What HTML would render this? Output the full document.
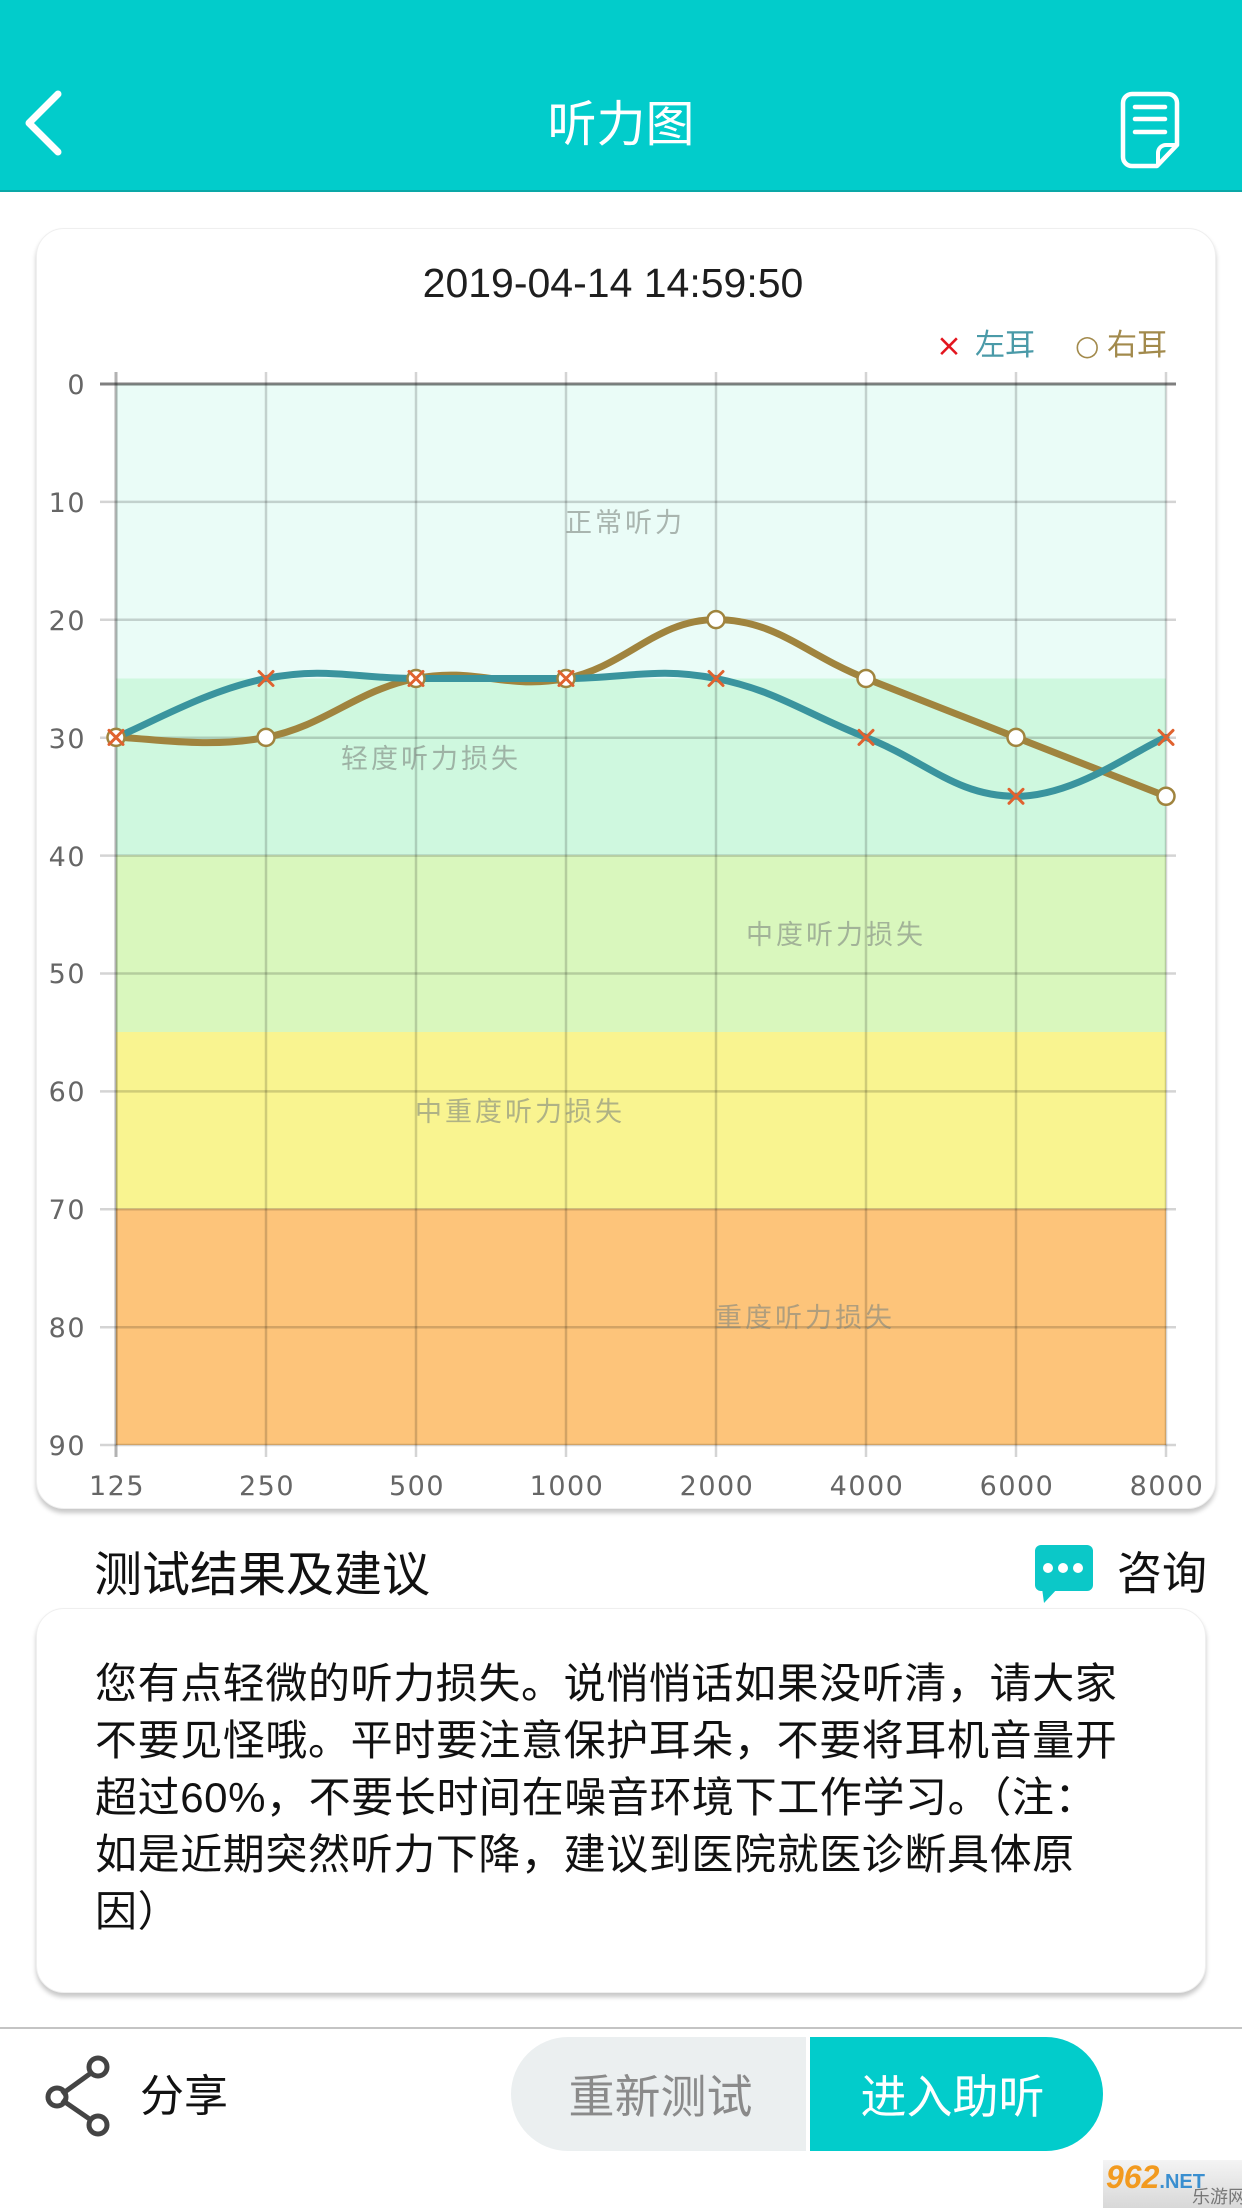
<!DOCTYPE html>
<html>
<head>
<meta charset="utf-8">
<style>
  html,body{margin:0;padding:0;}
  body{width:1242px;height:2208px;position:relative;overflow:hidden;background:#fff;
       font-family:"Liberation Sans","Noto Sans CJK SC",sans-serif;}
  .abs{position:absolute;}
  .cjk{font-family:"Liberation Sans","Noto Sans CJK SC",sans-serif;}
  .header{left:0;top:0;width:1242px;height:190px;background:#02cccb;border-bottom:2px solid #0aa8a7;}
  .card{background:#fff;border-radius:28px;box-shadow:0 4px 5px rgba(0,0,0,0.22);border:1px solid #efefef;}
  .txt{white-space:nowrap;}
</style>
</head>
<body>

<!-- Header -->
<div class="abs header"></div>
<svg class="abs" style="left:0;top:0" width="1242" height="200">
  <polyline points="58,94 29,123 58,152" fill="none" stroke="#fff" stroke-width="7" stroke-linecap="round" stroke-linejoin="round"/>
  <!-- doc icon -->
  <path d="M1132,94 h36 a9,9 0 0 1 9,9 v42 l-20,21 h-25 a9,9 0 0 1 -9,-9 v-54 a9,9 0 0 1 9,-9 z" fill="none" stroke="#fff" stroke-width="4.5" stroke-linejoin="round"/>
  <path d="M1177,145 h-11 a8,8 0 0 0 -8,8 v12" fill="none" stroke="#fff" stroke-width="4" stroke-linejoin="round"/>
  <line x1="1135" y1="107" x2="1165" y2="107" stroke="#fff" stroke-width="4.5" stroke-linecap="round"/>
  <line x1="1135" y1="119" x2="1165" y2="119" stroke="#fff" stroke-width="4.5" stroke-linecap="round"/>
  <line x1="1135" y1="132" x2="1165" y2="132" stroke="#fff" stroke-width="4.5" stroke-linecap="round"/>
</svg>
<div class="abs txt cjk" style="left:0;width:1242px;top:95px;height:60px;line-height:60px;text-align:center;color:#fff;font-size:49px;">听力图</div>

<!-- Chart card -->
<div class="abs card" style="left:36px;top:228px;width:1178px;height:1279px;"></div>
<div class="abs txt" style="left:413px;width:400px;top:260px;height:46px;line-height:46px;text-align:center;color:#1e1e1e;font-size:41px;font-family:'Liberation Sans',sans-serif;">2019-04-14 14:59:50</div>

<!-- legend -->
<div class="abs txt" style="left:936px;top:326px;height:40px;line-height:40px;font-size:31px;color:#e3161f;font-family:'DejaVu Sans',sans-serif;">×</div>
<div class="abs txt cjk" style="left:975px;top:326px;height:40px;line-height:40px;font-size:30px;color:#4a9aa8;">左耳</div>
<div class="abs txt" style="left:1075px;top:326px;height:40px;line-height:40px;font-size:28px;color:#a28a4c;font-family:'DejaVu Sans',sans-serif;">○</div>
<div class="abs txt cjk" style="left:1107px;top:326px;height:40px;line-height:40px;font-size:30px;color:#a28a4c;">右耳</div>

<svg class="abs" style="left:0;top:0" width="1242" height="1520">
  <!-- bands -->
  <rect x="116" y="384" width="1050" height="294.5" fill="#eafcf7"/>
  <rect x="116" y="678.5" width="1050" height="176.7" fill="#cff8df"/>
  <rect x="116" y="855.2" width="1050" height="176.8" fill="#d9f7bd"/>
  <rect x="116" y="1032" width="1050" height="176.7" fill="#f9f490"/>
  <rect x="116" y="1208.7" width="1050" height="236.3" fill="#fdc47a"/>

  <!-- horizontal grid -->
  <g stroke="rgba(0,0,0,0.17)" stroke-width="2.5">
    <line x1="100" y1="501.9" x2="1176" y2="501.9"/>
    <line x1="100" y1="619.8" x2="1176" y2="619.8"/>
    <line x1="100" y1="737.7" x2="1176" y2="737.7"/>
    <line x1="100" y1="855.6" x2="1176" y2="855.6"/>
    <line x1="100" y1="973.5" x2="1176" y2="973.5"/>
    <line x1="100" y1="1091.4" x2="1176" y2="1091.4"/>
    <line x1="100" y1="1209.3" x2="1176" y2="1209.3"/>
    <line x1="100" y1="1327.2" x2="1176" y2="1327.2"/>
    <line x1="100" y1="1445" x2="1176" y2="1445"/>
  </g>
  <!-- vertical grid -->
  <g stroke="rgba(0,0,0,0.17)" stroke-width="2.5">
    <line x1="266" y1="372" x2="266" y2="1457"/>
    <line x1="416" y1="372" x2="416" y2="1457"/>
    <line x1="566" y1="372" x2="566" y2="1457"/>
    <line x1="716" y1="372" x2="716" y2="1457"/>
    <line x1="866" y1="372" x2="866" y2="1457"/>
    <line x1="1016" y1="372" x2="1016" y2="1457"/>
    <line x1="1166" y1="372" x2="1166" y2="1457"/>
  </g>
  <line x1="116" y1="372" x2="116" y2="1457" stroke="rgba(0,0,0,0.3)" stroke-width="3"/>
  <line x1="100" y1="384" x2="1176" y2="384" stroke="rgba(0,0,0,0.5)" stroke-width="3"/>

  <!-- region labels -->
  <g font-family="Liberation Sans, Noto Sans CJK SC, sans-serif" font-size="27" letter-spacing="3" fill="#7d857f" fill-opacity="0.6">
    <text x="565" y="532">正常听力</text>
    <text x="341" y="768">轻度听力损失</text>
    <text x="746" y="944">中度听力损失</text>
    <text x="415" y="1121">中重度听力损失</text>
    <text x="715" y="1327">重度听力损失</text>
  </g>

  <!-- axis labels -->
  <g font-family="DejaVu Sans, sans-serif" font-size="27" fill="#666" letter-spacing="1.5" text-anchor="end">
    <text x="86" y="394">0</text>
    <text x="86" y="512">10</text>
    <text x="86" y="630">20</text>
    <text x="86" y="748">30</text>
    <text x="86" y="866">40</text>
    <text x="86" y="983">50</text>
    <text x="86" y="1101">60</text>
    <text x="86" y="1219">70</text>
    <text x="86" y="1337">80</text>
    <text x="86" y="1455">90</text>
  </g>
  <g font-family="DejaVu Sans, sans-serif" font-size="27" fill="#666" letter-spacing="1.5" text-anchor="middle">
    <text x="117" y="1495">125</text>
    <text x="267" y="1495">250</text>
    <text x="417" y="1495">500</text>
    <text x="567" y="1495">1000</text>
    <text x="717" y="1495">2000</text>
    <text x="867" y="1495">4000</text>
    <text x="1017" y="1495">6000</text>
    <text x="1167" y="1495">8000</text>
  </g>

  <!-- right ear (brown) -->
  <path d="M116,737.4 C146,737.4 206,749.2 266,737.4 C326,725.6 356,690.3 416,678.5 C476,666.7 506,690.3 566,678.5 C626,666.7 656,619.6 716,619.6 C776,619.6 806,654.9 866,678.5 C926,702.1 956,713.8 1016,737.4 C1076,761.0 1136,784.5 1166,796.3" fill="none" stroke="#a0843e" stroke-width="7" stroke-linecap="round"/>
  <!-- left ear (teal) -->
  <path d="M116,737.4 C146,725.6 206,690.3 266,678.5 C326,666.7 356,678.5 416,678.5 C476,678.5 506,678.5 566,678.5 C626,678.5 656,666.7 716,678.5 C776,690.3 806,713.8 866,737.4 C926,761.0 956,796.3 1016,796.3 C1076,796.3 1136,749.2 1166,737.4" fill="none" stroke="#3a949e" stroke-width="7" stroke-linecap="round"/>

  <!-- circles -->
  <g fill="#fff" stroke="#a0843e" stroke-width="2.5">
    <circle cx="116" cy="737.4" r="8.5"/>
    <circle cx="266" cy="737.4" r="8.5"/>
    <circle cx="416" cy="678.5" r="8.5"/>
    <circle cx="566" cy="678.5" r="8.5"/>
    <circle cx="716" cy="619.6" r="8.5"/>
    <circle cx="866" cy="678.5" r="8.5"/>
    <circle cx="1016" cy="737.4" r="8.5"/>
    <circle cx="1166" cy="796.3" r="8.5"/>
  </g>
  <!-- crosses -->
  <g stroke="#e0622f" stroke-width="3" stroke-linecap="round">
    <path d="M109,730.4 L123,744.4 M123,730.4 L109,744.4"/>
    <path d="M259,671.5 L273,685.5 M273,671.5 L259,685.5"/>
    <path d="M409,671.5 L423,685.5 M423,671.5 L409,685.5"/>
    <path d="M559,671.5 L573,685.5 M573,671.5 L559,685.5"/>
    <path d="M709,671.5 L723,685.5 M723,671.5 L709,685.5"/>
    <path d="M859,730.4 L873,744.4 M873,730.4 L859,744.4"/>
    <path d="M1009,789.3 L1023,803.3 M1023,789.3 L1009,803.3"/>
    <path d="M1159,730.4 L1173,744.4 M1173,730.4 L1159,744.4"/>
  </g>
</svg>

<!-- Result heading -->
<div class="abs txt cjk" style="left:94px;top:1546px;height:60px;line-height:60px;font-size:48px;color:#111;">测试结果及建议</div>
<svg class="abs" style="left:1030px;top:1540px" width="70" height="70">
  <rect x="5" y="5" width="58" height="46" rx="6" fill="#0bc8c8"/>
  <path d="M12,48 L14,63 L28,48 Z" fill="#0bc8c8"/>
  <circle cx="18" cy="28" r="5" fill="#fff"/>
  <circle cx="33" cy="28" r="5" fill="#fff"/>
  <circle cx="48" cy="28" r="5" fill="#fff"/>
</svg>
<div class="abs txt cjk" style="left:1117px;top:1545px;height:58px;line-height:58px;font-size:45px;color:#111;">咨询</div>

<!-- Result card -->
<div class="abs card" style="left:36px;top:1608px;width:1168px;height:383px;"></div>
<div class="abs txt cjk" style="left:95px;top:1655px;font-size:42px;line-height:57px;color:#111;letter-spacing:0.6px;">您有点轻微的听力损失。说悄悄话如果没听清，请大家<br>不要见怪哦。平时要注意保护耳朵，不要将耳机音量开<br>超过60%，不要长时间在噪音环境下工作学习。（注：<br>如是近期突然听力下降，建议到医院就医诊断具体原<br>因）</div>

<!-- bottom bar -->
<div class="abs" style="left:0;top:2027px;width:1242px;height:2px;background:#c4c4c4;"></div>
<svg class="abs" style="left:40px;top:2050px" width="80" height="90">
  <g fill="none" stroke="#444" stroke-width="5">
    <line x1="22" y1="44" x2="51" y2="23"/>
    <line x1="22" y1="50" x2="51" y2="70"/>
    <circle cx="58" cy="17" r="9"/>
    <circle cx="17" cy="47" r="9"/>
    <circle cx="58" cy="75" r="9"/>
  </g>
</svg>
<div class="abs txt cjk" style="left:140px;top:2068px;height:58px;line-height:58px;font-size:44px;color:#111;">分享</div>

<div class="abs" style="left:511px;top:2037px;width:295px;height:114px;background:#ebeff0;border-radius:57px 0 0 57px;"></div>
<div class="abs txt cjk" style="left:511px;top:2067px;width:295px;height:60px;line-height:60px;text-align:center;font-size:46px;color:#8a8a8a;padding-left:4px;box-sizing:border-box;">重新测试</div>
<div class="abs" style="left:810px;top:2037px;width:293px;height:114px;background:#02cccb;border-radius:0 57px 57px 0;"></div>
<div class="abs txt cjk" style="left:810px;top:2067px;width:293px;height:60px;line-height:60px;text-align:center;font-size:46px;color:#fff;padding-right:8px;box-sizing:border-box;">进入助听</div>

<!-- watermark -->
<div class="abs" style="left:1103px;top:2160px;width:139px;height:48px;background:linear-gradient(#f4f4f4,#d8d8d8);"></div>
<div class="abs txt" style="left:1106px;top:2160px;height:34px;line-height:34px;font-size:32px;font-weight:bold;font-style:italic;color:#f29a1f;font-family:'Liberation Sans',sans-serif;">962<span style="font-size:20px;color:#3a8fd0;font-style:normal;">.NET</span></div>
<div class="abs txt cjk" style="left:1192px;top:2186px;height:22px;line-height:22px;font-size:18px;color:#777;">乐游网</div>

</body>
</html>
